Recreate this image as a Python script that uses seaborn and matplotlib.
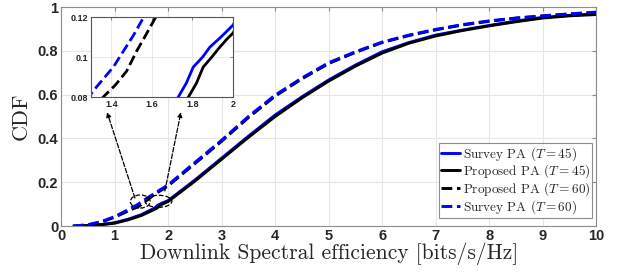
import numpy as np
import pandas as pd
import seaborn as sbn
from matplotlib import pyplot as plt
from matplotlib.patches import Ellipse

# CDF curves (x = spectral efficiency, y = CDF)
x_survey45 = [0.3, 0.5, 0.75, 1.0, 1.25, 1.5, 1.73, 1.77, 1.804, 1.85, 1.886, 1.94, 2.0,
              2.5, 3.0, 3.5, 4.0, 4.5, 5.0, 5.5, 6.0, 6.5, 7.0, 7.5, 8.0, 8.5, 9.0, 9.5, 10.0]
y_survey45 = [0.0, 0.002, 0.007, 0.015, 0.031, 0.052, 0.08, 0.087, 0.095, 0.1, 0.105, 0.11, 0.116,
              0.21, 0.31, 0.41, 0.507, 0.59, 0.667, 0.735, 0.796, 0.838, 0.872, 0.895, 0.916, 0.936, 0.953, 0.962, 0.969]

x_prop45 = [0.3, 0.5, 0.75, 1.0, 1.25, 1.5, 1.78, 1.82, 1.853, 1.895, 1.935, 1.97, 2.0,
            2.5, 3.0, 3.5, 4.0, 4.5, 5.0, 5.5, 6.0, 6.5, 7.0, 7.5, 8.0, 8.5, 9.0, 9.5, 10.0]
y_prop45 = [0.0, 0.002, 0.006, 0.013, 0.028, 0.048, 0.08, 0.087, 0.095, 0.1, 0.105, 0.109, 0.112,
            0.205, 0.305, 0.405, 0.5, 0.585, 0.662, 0.73, 0.79, 0.835, 0.868, 0.893, 0.914, 0.933, 0.95, 0.96, 0.966]

x_prop60 = [0.22, 0.5, 0.75, 1.0, 1.25, 1.36, 1.42, 1.476, 1.525, 1.57, 1.619, 1.75, 2.0,
            2.5, 3.0, 3.5, 4.0, 4.5, 5.0, 5.5, 6.0, 6.5, 7.0, 7.5, 8.0, 8.5, 9.0, 9.5, 10.0]
y_prop60 = [0.0, 0.005, 0.018, 0.04, 0.068, 0.08, 0.086, 0.093, 0.103, 0.111, 0.12, 0.145, 0.183,
            0.285, 0.387, 0.495, 0.593, 0.672, 0.742, 0.793, 0.838, 0.87, 0.896, 0.918, 0.935, 0.949, 0.959, 0.968, 0.975]

x_survey60 = [0.22, 0.5, 0.75, 1.0, 1.25, 1.31, 1.36, 1.41, 1.46, 1.51, 1.56, 1.61, 1.75, 2.0,
              2.5, 3.0, 3.5, 4.0, 4.5, 5.0, 5.5, 6.0, 6.5, 7.0, 7.5, 8.0, 8.5, 9.0, 9.5, 10.0]
y_survey60 = [0.0, 0.006, 0.02, 0.043, 0.074, 0.083, 0.089, 0.095, 0.103, 0.111, 0.12, 0.128, 0.15, 0.188,
              0.29, 0.392, 0.5, 0.598, 0.676, 0.746, 0.796, 0.84, 0.872, 0.898, 0.92, 0.937, 0.95, 0.96, 0.969, 0.977]

series = [
    (x_survey45, y_survey45, 'blue', '-', r'Survey PA ($T = 45$)'),
    (x_prop45, y_prop45, 'black', '-', r'Proposed PA ($T = 45$)'),
    (x_prop60, y_prop60, 'black', '--', r'Proposed PA ($T = 60$)'),
    (x_survey60, y_survey60, 'blue', '--', r'Survey PA ($T = 60$)'),
]

sbn.set_style('white')
plt.rcParams['mathtext.fontset'] = 'cm'
plt.rcParams['axes.unicode_minus'] = False

cmfont = 'cmr10'

fig = plt.figure(figsize=(6.23, 2.72), dpi=100)
ax = fig.add_axes([0.098, 0.169, 0.859, 0.805])

for xs, ys, c, ls, lab in series:
    sbn.lineplot(x=xs, y=ys, ax=ax, color=c, linestyle=ls, linewidth=2.1,
                 label=lab, sort=False)

ax.set_xlim(0, 10)
ax.set_ylim(0, 1)
ax.set_xticks(range(0, 11))
ax.set_yticks([0, 0.2, 0.4, 0.6, 0.8, 1])
ax.set_yticklabels(['0', '0.2', '0.4', '0.6', '0.8', '1'])
ax.grid(True, color='#e6e6e6', linewidth=0.8)
ax.tick_params(direction='in', length=3, top=True, right=True, color='#888888', pad=2)
for lab in ax.get_xticklabels() + ax.get_yticklabels():
    lab.set_fontfamily('Liberation Sans')
    lab.set_fontweight('bold')
    lab.set_fontsize(10.5)
for s in ax.spines.values():
    s.set_color('#8c8c8c')
    s.set_linewidth(0.8)

ax.set_xlabel('Downlink Spectral efficiency [bits/s/Hz]', fontfamily=cmfont, fontsize=15.5, labelpad=0)
ax.set_ylabel('CDF', fontfamily=cmfont, fontsize=16, labelpad=5)

leg = ax.legend(loc='lower right', bbox_to_anchor=(0.997, 0.025), prop={'family': cmfont, 'size': 9.5},
                frameon=True, fancybox=False, edgecolor='#8c8c8c', framealpha=1,
                handlelength=1.45, handletextpad=0.2, labelspacing=0.0, borderpad=0.15,
                borderaxespad=0.2)
leg.get_frame().set_linewidth(0.8)

# zoom markers in the main plot
for cx, cy, w, h in [(1.48, 0.112, 0.37, 0.06), (1.82, 0.113, 0.5, 0.055)]:
    ax.add_patch(Ellipse((cx, cy), w, h, fill=False, ls='--', lw=0.9, ec='black', zorder=5))

arrow = dict(arrowstyle='-|>', ls='--', lw=0.9, color='black', mutation_scale=7, shrinkA=0, shrinkB=0)
ax.annotate('', xy=(0.86, 0.52), xytext=(1.38, 0.128), arrowprops=arrow, zorder=5)
ax.annotate('', xy=(2.24, 0.52), xytext=(1.94, 0.16), arrowprops=arrow, zorder=5)

# inset
ins = fig.add_axes([0.146, 0.643, 0.228, 0.294])
for xs, ys, c, ls, lab in series:
    sbn.lineplot(x=xs, y=ys, ax=ins, color=c, linestyle=ls, linewidth=2.0,
                 sort=False, legend=False)
ins.set_xlim(1.3, 2.0)
ins.set_ylim(0.08, 0.12)
ins.set_xticks([1.4, 1.6, 1.8, 2.0])
ins.set_xticklabels(['1.4', '1.6', '1.8', '2'])
ins.set_yticks([0.08, 0.1, 0.12])
ins.set_yticklabels(['0.08', '0.1', '0.12'])
ins.set_xlabel('')
ins.set_ylabel('')
ins.grid(True, color='#e6e6e6', linewidth=0.6)
ins.tick_params(direction='in', length=2, top=True, right=True, color='#888888', pad=2)
for lab in ins.get_xticklabels() + ins.get_yticklabels():
    lab.set_fontfamily('Liberation Sans')
    lab.set_fontweight('bold')
    lab.set_fontsize(6.5)
for s in ins.spines.values():
    s.set_color('#555555')
    s.set_linewidth(0.8)

fig.savefig('out.png', dpi=100)
